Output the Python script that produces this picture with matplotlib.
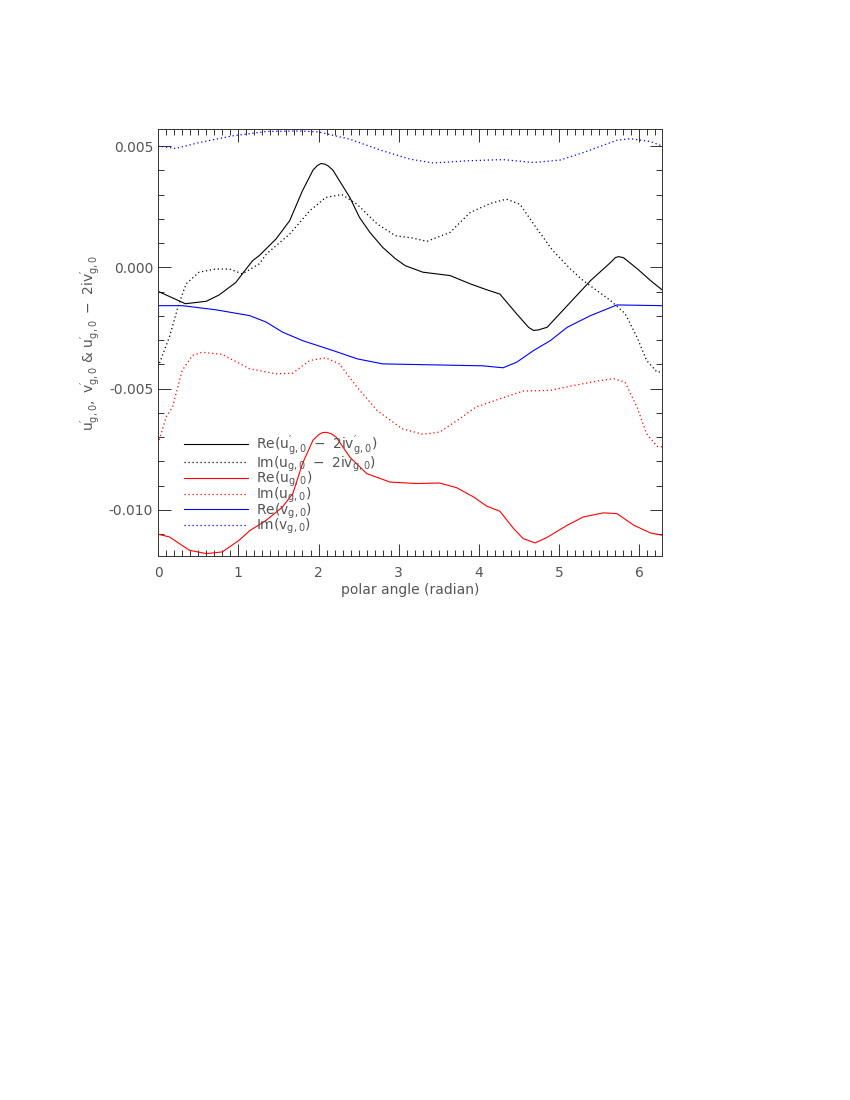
import numpy as np
import matplotlib
matplotlib.use("Agg")
import matplotlib.pyplot as plt
from matplotlib.ticker import MultipleLocator

plt.rcParams['font.family'] = ['DejaVu Sans']
plt.rcParams['mathtext.default'] = 'regular'

# Re(u' - 2iv')  black solid
x_re_w = [0, 0.30, 0.34, 0.6, 0.76, 0.97, 1.08, 1.18, 1.26, 1.47, 1.64, 1.80, 1.93, 1.98,
          2.03, 2.08, 2.12, 2.18, 2.39, 2.51, 2.64, 2.80, 2.96, 3.08, 3.30, 3.64, 3.89,
          4.10, 4.26, 4.47, 4.62, 4.68, 4.74, 4.85, 5.10, 5.39, 5.64, 5.70, 5.74, 5.80,
          5.97, 6.14, 6.283]
y_re_w = [-0.00099, -0.00144, -0.0015, -0.0014, -0.00114, -0.00062, -0.00014, 0.00028,
          0.00048, 0.00117, 0.00192, 0.00316, 0.0040, 0.00418, 0.00428, 0.00425, 0.00418,
          0.0040, 0.00288, 0.00206, 0.00144, 0.00082, 0.00035, 0.00007, -0.0002, -0.00034,
          -0.00068, -0.00093, -0.0011, -0.00192, -0.00248, -0.0026, -0.00258, -0.00247,
          -0.00158, -0.00055, 0.0002, 0.0004, 0.00044, 0.0004, -0.00005, -0.00055, -0.00093]

# Im(u - 2iv)  black dotted
x_im_w = [0, 0.14, 0.26, 0.35, 0.51, 0.72, 0.89, 1.05, 1.26, 1.35, 1.64, 1.89, 2.09, 2.29,
          2.48, 2.73, 2.96, 3.17, 3.35, 3.64, 3.89, 4.14, 4.34, 4.51, 4.71, 4.92, 5.14,
          5.30, 5.64, 5.82, 5.97, 6.09, 6.22, 6.283]
y_im_w = [-0.0041, -0.00288, -0.0015, -0.00068, -0.0002, -0.00007, -0.00007, -0.00027,
          0.00014, 0.00055, 0.00137, 0.00233, 0.00288, 0.0030, 0.0026, 0.00179, 0.0013,
          0.00121, 0.00107, 0.00144, 0.00226, 0.00263, 0.00281, 0.0026, 0.00165, 0.00069,
          -0.00007, -0.00055, -0.00137, -0.0019, -0.00288, -0.00384, -0.00432, -0.0043]

# Re(u)  red solid
x_re_u = [0, 0.14, 0.39, 0.6, 0.8, 1.01, 1.14, 1.35, 1.55, 1.68, 1.80, 1.93, 2.0, 2.05,
          2.10, 2.16, 2.22, 2.39, 2.60, 2.89, 3.22, 3.51, 3.72, 3.93, 4.10, 4.26, 4.43,
          4.55, 4.70, 4.85, 5.10, 5.30, 5.55, 5.72, 5.93, 6.14, 6.283]
y_re_u = [-0.0110, -0.01111, -0.01166, -0.0118, -0.01173, -0.01125, -0.01086, -0.01042,
          -0.00988, -0.00932, -0.00809, -0.00713, -0.0069, -0.00681, -0.0068, -0.00686,
          -0.0070, -0.00782, -0.0085, -0.00885, -0.00891, -0.00889, -0.00908, -0.00946,
          -0.00985, -0.01005, -0.01076, -0.01118, -0.01136, -0.01113, -0.01063, -0.01029,
          -0.01012, -0.01015, -0.01063, -0.01095, -0.01104]

# Im(u)  red dotted
x_im_u = [0, 0.1, 0.18, 0.30, 0.43, 0.55, 0.80, 1.14, 1.47, 1.68, 1.89, 2.09, 2.26, 2.48,
          2.73, 3.04, 3.30, 3.51, 3.76, 3.96, 4.26, 4.55, 4.89, 5.18, 5.47, 5.68, 5.82,
          5.97, 6.09, 6.22, 6.283]
y_im_u = [-0.00727, -0.00617, -0.00576, -0.00425, -0.00363, -0.0035, -0.00359, -0.00418,
          -0.00439, -0.00436, -0.00384, -0.00373, -0.00398, -0.00494, -0.0059, -0.00665,
          -0.00688, -0.00679, -0.00624, -0.00576, -0.00542, -0.0051, -0.00507, -0.00487,
          -0.00469, -0.00459, -0.00473, -0.00576, -0.00686, -0.00738, -0.0074]

# Re(v)  blue solid
x_re_v = [0, 0.30, 0.72, 1.14, 1.35, 1.55, 1.80, 2.18, 2.48, 2.80, 3.43, 4.05, 4.30, 4.47,
          4.68, 4.89, 5.10, 5.39, 5.72, 6.283]
y_re_v = [-0.00158, -0.00158, -0.00175, -0.00199, -0.00226, -0.00267, -0.00302, -0.00343,
          -0.00377, -0.00398, -0.00402, -0.00406, -0.00414, -0.00391, -0.00343, -0.00302,
          -0.00247, -0.00199, -0.00155, -0.00158]

# Im(v)  blue dotted
x_im_v = [0, 0.22, 0.51, 0.93, 1.35, 1.76, 2.0, 2.39, 2.80, 3.14, 3.43, 3.85, 4.30, 4.68,
          5.01, 5.30, 5.72, 5.89, 6.14, 6.283]
y_im_v = [0.0050, 0.0049, 0.00514, 0.00542, 0.0056, 0.00562, 0.00558, 0.00528, 0.0048,
          0.00446, 0.0043, 0.00439, 0.00444, 0.00432, 0.00442, 0.00473, 0.00524, 0.0053,
          0.00518, 0.0050]

labels = [r"Re($u^{\prime}_{g,0}\ -\ 2iv^{\prime}_{g,0}$)",
          r"Im($u_{g,0}\ -\ 2iv_{g,0}$)",
          r"Re($u_{g,0}$)",
          r"Im($u_{g,0}$)",
          r"Re($v_{g,0}$)",
          r"Im($v_{g,0}$)"]

dot = (0, (1, 2.2))
fig = plt.figure(figsize=(8.5, 11), dpi=100)
ax = fig.add_axes([0.186, 0.4945, 0.593, 0.3882])

ax.plot(x_re_w, y_re_w, color='black', lw=0.8, label=labels[0])
ax.plot(x_im_w, y_im_w, color='black', lw=0.9, ls=dot, label=labels[1])
ax.plot(x_re_u, y_re_u, color='red', lw=0.8, label=labels[2])
ax.plot(x_im_u, y_im_u, color='red', lw=0.9, ls=dot, label=labels[3])
ax.plot(x_re_v, y_re_v, color='blue', lw=0.8, label=labels[4])
ax.plot(x_im_v, y_im_v, color='blue', lw=0.9, ls=dot, label=labels[5])

ax.set_xlim(0, 2 * np.pi)
ax.set_ylim(-0.0119, 0.0057)
ax.xaxis.set_major_locator(MultipleLocator(1))
ax.xaxis.set_minor_locator(MultipleLocator(0.1))
ax.yaxis.set_major_locator(MultipleLocator(0.005))
ax.yaxis.set_minor_locator(MultipleLocator(0.001))
ax.yaxis.set_major_formatter(matplotlib.ticker.FormatStrFormatter('%.3f'))
ax.tick_params(which='both', direction='in', top=True, right=True,
               colors='#333333', labelcolor='#555555', labelsize=10)
ax.tick_params(which='major', length=9, width=0.7)
ax.tick_params(which='minor', length=4.5, width=0.7)
ax.tick_params(axis='x', pad=7)
for sp in ax.spines.values():
    sp.set_linewidth(0.7)
    sp.set_color('#333333')

ax.set_xlabel("polar angle (radian)", color='#555555', fontsize=10, labelpad=2)
ax.set_ylabel(r"$u^{\prime}_{g,0},\ v^{\prime}_{g,0}$ & $u^{\prime}_{g,0}\ -\ 2iv^{\prime}_{g,0}$",
              color='#555555', fontsize=10, labelpad=4)

leg = ax.legend(loc='upper left', bbox_to_anchor=(0.051, 0.287), frameon=False,
                fontsize=10, handlelength=4.6, handletextpad=0.6,
                labelspacing=-0.26, borderpad=0, borderaxespad=0)
for t in leg.get_texts():
    t.set_color('#555555')

fig.savefig("out.png", dpi=100)
